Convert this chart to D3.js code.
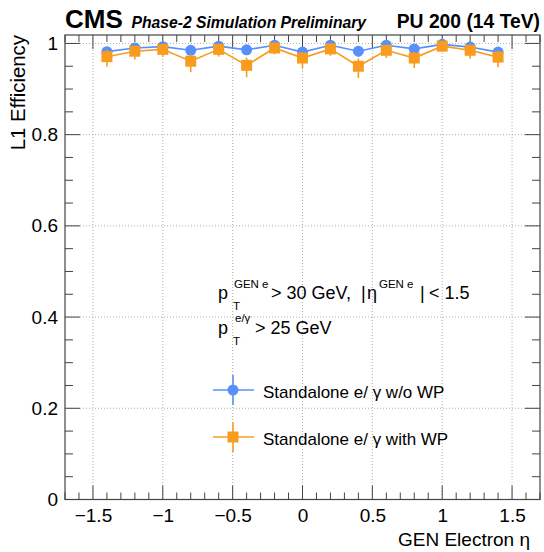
<!DOCTYPE html>
<html><head><meta charset="utf-8">
<script src="https://cdn.jsdelivr.net/npm/d3@7"></script>
<style>body{margin:0;background:#fff}svg{display:block;font-family:"Liberation Sans",Arial,sans-serif}</style>
</head><body><svg id="c" width="544" height="552"></svg>
<script>
const eta = [-1.4,-1.2,-1.0,-0.8,-0.6,-0.4,-0.2,0.0,0.2,0.4,0.6,0.8,1.0,1.2,1.4];
const effNoWP = [0.982,0.990,0.993,0.985,0.994,0.986,0.996,0.981,0.996,0.983,0.996,0.988,0.998,0.992,0.981];
const effWP   = [0.971,0.983,0.987,0.961,0.987,0.952,0.990,0.968,0.988,0.950,0.985,0.968,0.994,0.985,0.970];
const errNoWPlo = [0.012,0.010,0.009,0.011,0.008,0.011,0.007,0.012,0.007,0.012,0.007,0.010,0.006,0.009,0.012];
const errNoWPhi = [0.009,0.006,0.005,0.007,0.004,0.007,0.003,0.008,0.003,0.008,0.003,0.006,0.002,0.005,0.009];
const errWPlo = [0.022,0.018,0.016,0.024,0.016,0.026,0.014,0.022,0.015,0.026,0.017,0.022,0.012,0.018,0.022];
const errWPhi = [0.014,0.010,0.009,0.015,0.009,0.017,0.008,0.013,0.008,0.017,0.010,0.013,0.005,0.010,0.014];
const xTicks = [-1.5,-1,-0.5,0,0.5,1,1.5];
const yTicks = [0,0.2,0.4,0.6,0.8,1];
const seriesNames = ["Standalone e/ \u03b3 w/o WP","Standalone e/ \u03b3 with WP"];
const colors = ["#5790fc","#f89c20"];

const svg = d3.select("#c");
const L=65,R=540,T=35,B=499.5;
const x = d3.scaleLinear().domain([-1.7,1.7]).range([L,R]);
const y = d3.scaleLinear().domain([0,1.0185]).range([B,T]);

// grid
const grid = svg.append("g").attr("stroke","#9a9a9a").attr("stroke-width",0.8).attr("stroke-dasharray","1,2");
xTicks.forEach(t=>grid.append("line").attr("x1",x(t)).attr("x2",x(t)).attr("y1",T).attr("y2",B));
yTicks.filter(t=>t>0).forEach(t=>grid.append("line").attr("x1",L).attr("x2",R).attr("y1",y(t)).attr("y2",y(t)));

// axes
const fmt = d=> (d<0?"\u2212":"")+Math.abs(d);
const minorX = d3.range(-17,18).map(i=>i/10);
const minorY = d3.range(0,21).map(i=>i*0.05);
const axB = d3.axisBottom(x).tickValues(xTicks).tickFormat(fmt).tickSize(0).tickPadding(9);
const gB = svg.append("g").attr("transform",`translate(0,${B})`).call(axB);
gB.select(".domain").remove();
gB.selectAll("text").attr("font-size",19).attr("fill","#000").attr("font-family","Liberation Sans, Arial");
const axL = d3.axisLeft(y).tickValues(yTicks).tickFormat(d=>d).tickSize(0).tickPadding(7);
const gL = svg.append("g").attr("transform",`translate(${L},0)`).call(axL);
gL.select(".domain").remove();
gL.selectAll("text").attr("font-size",19).attr("fill","#000").attr("font-family","Liberation Sans, Arial");

const tk = svg.append("g").attr("stroke","#444").attr("stroke-width",1);
minorX.forEach(t=>{
  const major = xTicks.some(v=>Math.abs(v-t)<1e-6);
  const len = major?14:7;
  tk.append("line").attr("x1",x(t)).attr("x2",x(t)).attr("y1",B).attr("y2",B-len);
  tk.append("line").attr("x1",x(t)).attr("x2",x(t)).attr("y1",T).attr("y2",T+len);
});
minorY.forEach(t=>{
  const major = yTicks.some(v=>Math.abs(v-t)<1e-6);
  const len = major?15:8;
  tk.append("line").attr("x1",L).attr("x2",L+len).attr("y1",y(t)).attr("y2",y(t));
  tk.append("line").attr("x1",R).attr("x2",R-len).attr("y1",y(t)).attr("y2",y(t));
});
svg.append("rect").attr("x",L).attr("y",T).attr("width",R-L).attr("height",B-T)
  .attr("fill","none").attr("stroke","#444").attr("stroke-width",1.2);

// series
function drawSeries(vals, lo, hi, color, shape){
  const g = svg.append("g");
  const data = eta.map((e,i)=>({e,v:vals[i],lo:lo[i],hi:hi[i]}));
  g.append("path").datum(data).attr("fill","none").attr("stroke",color).attr("stroke-width",1.6)
   .attr("d", d3.line().x(d=>x(d.e)).y(d=>y(d.v)));
  g.selectAll("line.err").data(data).enter().append("line").attr("stroke",color).attr("stroke-width",1.6)
   .attr("x1",d=>x(d.e)).attr("x2",d=>x(d.e)).attr("y1",d=>y(d.v-d.lo)).attr("y2",d=>y(Math.min(1.0185,d.v+d.hi)));
  if(shape==="circle"){
    g.selectAll("circle").data(data).enter().append("circle").attr("cx",d=>x(d.e)).attr("cy",d=>y(d.v)).attr("r",5.5).attr("fill",color);
  } else {
    g.selectAll("rect").data(data).enter().append("rect").attr("x",d=>x(d.e)-5.5).attr("y",d=>y(d.v)-5.5).attr("width",11).attr("height",11).attr("fill",color);
  }
}
drawSeries(effNoWP, errNoWPlo, errNoWPhi, colors[0], "circle");
drawSeries(effWP, errWPlo, errWPhi, colors[1], "square");

// header
svg.append("text").attr("x",65).attr("y",27.5).attr("font-size",26).attr("font-weight","bold").text("CMS");
svg.append("text").attr("x",131.5).attr("y",27.5).attr("font-size",15.7).attr("font-weight","bold").attr("font-style","italic").text("Phase-2 Simulation Preliminary");
svg.append("text").attr("x",540).attr("y",28).attr("font-size",19.3).attr("font-weight","bold").attr("text-anchor","end").text("PU 200 (14 TeV)");

// axis titles
svg.append("text").attr("x",530).attr("y",546).attr("font-size",19).attr("text-anchor","end").text("GEN Electron  \u03b7");
svg.append("text").attr("transform","translate(25,35) rotate(-90)").attr("font-size",20.4).attr("text-anchor","end").text("L1 Efficiency");

// annotation
const ann = svg.append("g").attr("font-size",18);
const t = (xx,yy,s,fs)=>ann.append("text").attr("x",xx).attr("y",yy).attr("font-size",fs||18).text(s);
t(218,299,"p"); t(234,288,"GEN e",11.5); t(233,310,"T",11.5);
t(271,299,"> 30 GeV,"); t(361,299,"|"); t(367,299,"\u03b7"); t(379,288,"GEN e",11.5);
t(420,299,"|"); t(429,299,"< 1.5");
t(218,334,"p"); t(235,322,"e/\u03b3",11.5); t(233,345,"T",11.5);
t(255,334,"> 25 GeV");

// legend
const legY = [390,437];
seriesNames.forEach((n,i)=>{
  const g = svg.append("g");
  const cx=233, cy=legY[i];
  g.append("line").attr("x1",213).attr("x2",254).attr("y1",cy).attr("y2",cy).attr("stroke",colors[i]).attr("stroke-width",1.6);
  g.append("line").attr("x1",cx).attr("x2",cx).attr("y1",cy-15).attr("y2",cy+15).attr("stroke",colors[i]).attr("stroke-width",1.6);
  if(i===0) g.append("circle").attr("cx",cx).attr("cy",cy).attr("r",5.5).attr("fill",colors[i]);
  else g.append("rect").attr("x",cx-5.5).attr("y",cy-5.5).attr("width",11).attr("height",11).attr("fill",colors[i]);
  g.append("text").attr("x",263).attr("y",cy+8).attr("font-size",17).text(n);
});
</script></body></html>
